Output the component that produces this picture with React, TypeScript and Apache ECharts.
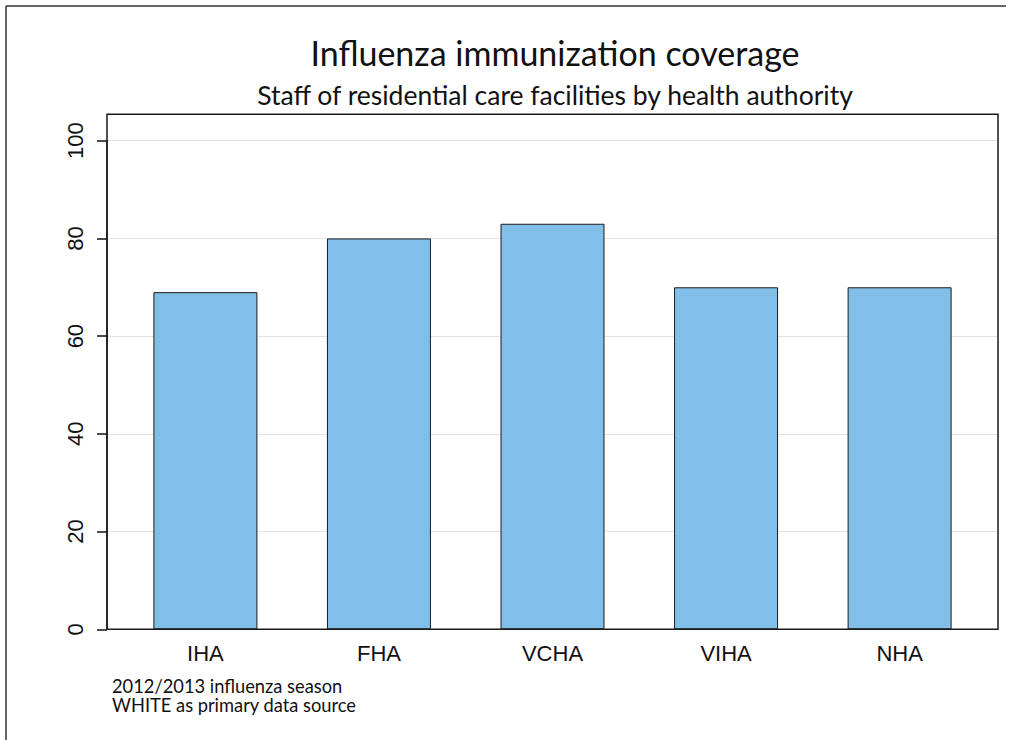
import React, { useEffect, useRef } from "react";
import * as echarts from "echarts";

const categories = ["IHA", "FHA", "VCHA", "VIHA", "NHA"];
const coverage = [69, 80, 83, 70, 70];
const yMin = 0;
const yMax = 100;
const yStep = 20;
const titleText = "Influenza immunization coverage";
const subtitleText = "Staff of residential care facilities by health authority";
const footnotes = ["2012/2013 influenza season", "WHITE as primary data source"];

const W = 1012;
const H = 740;
const BOX = { left: 107, top: 114.3, right: 998, bottom: 629.3 };
const DATA_TOP = 140.7;

export default function App() {
  const ref = useRef<HTMLDivElement>(null);
  useEffect(() => {
    if (!ref.current) return;
    const chart = echarts.init(ref.current, undefined, { renderer: "svg" });
    const titleFont = "Lato, 'Open Sans', sans-serif";
    const axisFont = "'Liberation Sans', Arial, sans-serif";
    const plotH = BOX.bottom - DATA_TOP;
    chart.setOption({
      animation: false,
      backgroundColor: "#ffffff",
      grid: {
        left: BOX.left,
        top: DATA_TOP,
        width: BOX.right - BOX.left,
        height: plotH,
        show: false,
      },
      xAxis: {
        type: "value",
        min: -0.567,
        max: categories.length - 1 + 0.567,
        axisLine: { show: false, onZero: false },
        axisTick: { show: false },
        splitLine: { show: false },
        axisLabel: {
          customValues: categories.map((_, i) => i),
          formatter: (v: number) => categories[Math.round(v)] ?? "",
          fontFamily: axisFont,
          fontSize: 22,
          color: "#111",
          margin: 13,
        },
      },
      yAxis: {
        type: "value",
        min: yMin,
        max: yMax,
        interval: yStep,
        axisLine: { show: true, onZero: false, lineStyle: { color: "#1a1a1a", width: 1.5 } },
        axisTick: {
          show: true,
          inside: false,
          length: 10,
          lineStyle: { color: "#111", width: 1.5 },
        },
        axisLabel: {
          rotate: 90,
          fontFamily: axisFont,
          fontSize: 22,
          color: "#111",
          margin: 21,
        },
        splitLine: {
          show: true,
          lineStyle: { color: "#e3e3e3", width: 1 },
        },
      },
      series: [
        {
          type: "bar",
          data: categories.map((c, i) => [i, coverage[i]]),
          barWidth: 104,
          itemStyle: {
            color: "#82bfe8",
            borderColor: "#1a1a1a",
            borderWidth: 1,
          },
        },
      ],
      graphic: [
        {
          type: "line",
          shape: { x1: 6, y1: 6, x2: 1006, y2: 6 },
          style: { stroke: "#333", lineWidth: 1.5 },
          z: 100,
        },
        {
          type: "line",
          shape: { x1: 6, y1: 6, x2: 6, y2: H },
          style: { stroke: "#333", lineWidth: 1.5 },
          z: 100,
        },
        {
          type: "rect",
          shape: { x: BOX.left, y: BOX.top, width: BOX.right - BOX.left, height: BOX.bottom - BOX.top },
          style: { fill: "none", stroke: "#1a1a1a", lineWidth: 1.5 },
          z: 100,
        },
        {
          type: "text",
          x: 555,
          y: 52,
          style: {
            text: titleText,
            font: `34px ${titleFont}`,
            fill: "#111",
            textAlign: "center",
            textVerticalAlign: "middle",
          },
          z: 100,
        },
        {
          type: "text",
          x: 555,
          y: 95,
          style: {
            text: subtitleText,
            font: `26.5px ${titleFont}`,
            fill: "#111",
            textAlign: "center",
            textVerticalAlign: "middle",
          },
          z: 100,
        },
        {
          type: "text",
          x: 112,
          y: 676.5,
          style: {
            text: footnotes.join("\n"),
            font: `18.3px ${titleFont}`,
            lineHeight: 18.8,
            fill: "#111",
            textAlign: "left",
            textVerticalAlign: "top",
          },
          z: 100,
        },
      ],
    });
    return () => chart.dispose();
  }, []);
  return (
    <div
      ref={ref}
      style={{ position: "fixed", left: 0, top: 0, width: W, height: H }}
    />
  );
}
